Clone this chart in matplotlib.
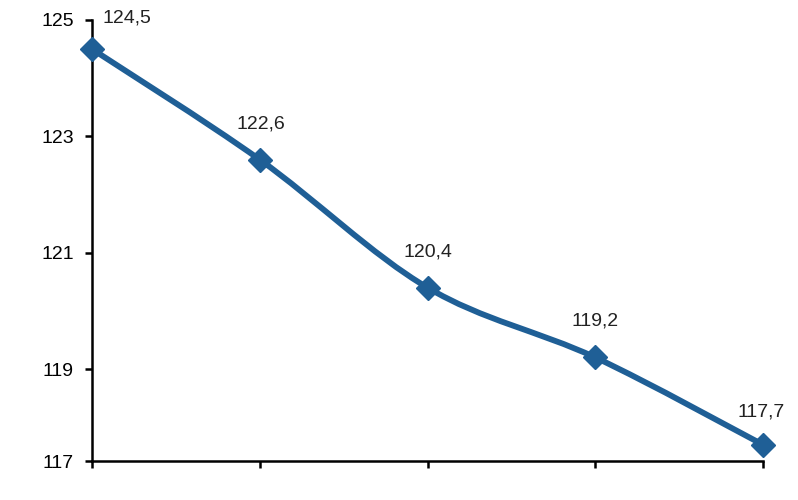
import matplotlib
matplotlib.use("Agg")
import matplotlib.pyplot as plt
from matplotlib.path import Path
from matplotlib.patches import PathPatch

# values
values = [124.5, 122.6, 120.4, 119.2, 117.7]
labels = ["124,5", "122,6", "120,4", "119,2", "117,7"]
ytick_vals = [117.42, 119, 121, 123, 125]
ytick_labels = ["117", "119", "121", "123", "125"]

color = "#1f5f96"
plt.rcParams["font.family"] = ["Liberation Sans", "DejaVu Sans"]

fig = plt.figure(figsize=(7.98, 5.0), dpi=100)
ax = fig.add_axes([92 / 798, 39 / 500, (763 - 92) / 798, (461 - 20) / 500])

x = list(range(len(values)))

# smooth line (Catmull-Rom style, like a spreadsheet's smoothed line)
t = 1.0 / 6
verts = [(x[0], values[0])]
codes = [Path.MOVETO]
for i in range(len(x) - 1):
    x0, y0 = (x[i - 1], values[i - 1]) if i > 0 else (x[i], values[i])
    x1, y1 = x[i], values[i]
    x2, y2 = x[i + 1], values[i + 1]
    x3, y3 = (x[i + 2], values[i + 2]) if i + 2 < len(x) else (x2, y2)
    c1 = (x1 + (x2 - x0) * t, y1 + (y2 - y0) * t)
    c2 = (x2 - (x3 - x1) * t, y2 - (y3 - y1) * t)
    verts += [c1, c2, (x2, y2)]
    codes += [Path.CURVE4] * 3
ax.add_patch(PathPatch(Path(verts, codes), fill=False, edgecolor=color,
                       lw=4.2, capstyle="round", joinstyle="round", zorder=3))
ax.plot(x, values, linestyle="none", marker="D", markersize=12,
        color=color, zorder=4, clip_on=False)

offsets = [(35, 31), (1, 36), (0, 36), (0, 36), (-2, 33)]
for xi, v, lab, off in zip(x, values, labels, offsets):
    ax.annotate(lab, (xi, v), xytext=off, textcoords="offset pixels",
                ha="center", va="center", fontsize=14, color="#222222")

ax.set_xlim(0, 4)
ax.set_ylim(117.42, 125)
ax.set_xticks(x)
ax.set_xticklabels([])
ax.set_yticks(ytick_vals)
ax.set_yticklabels(ytick_labels, fontsize=14)
ax.tick_params(axis="both", direction="out", length=5, width=1.8,
               color="black", pad=8)
for s in ["top", "right"]:
    ax.spines[s].set_visible(False)
for s in ["left", "bottom"]:
    ax.spines[s].set_linewidth(1.8)
    ax.spines[s].set_color("black")

fig.savefig("out.png", dpi=100)
